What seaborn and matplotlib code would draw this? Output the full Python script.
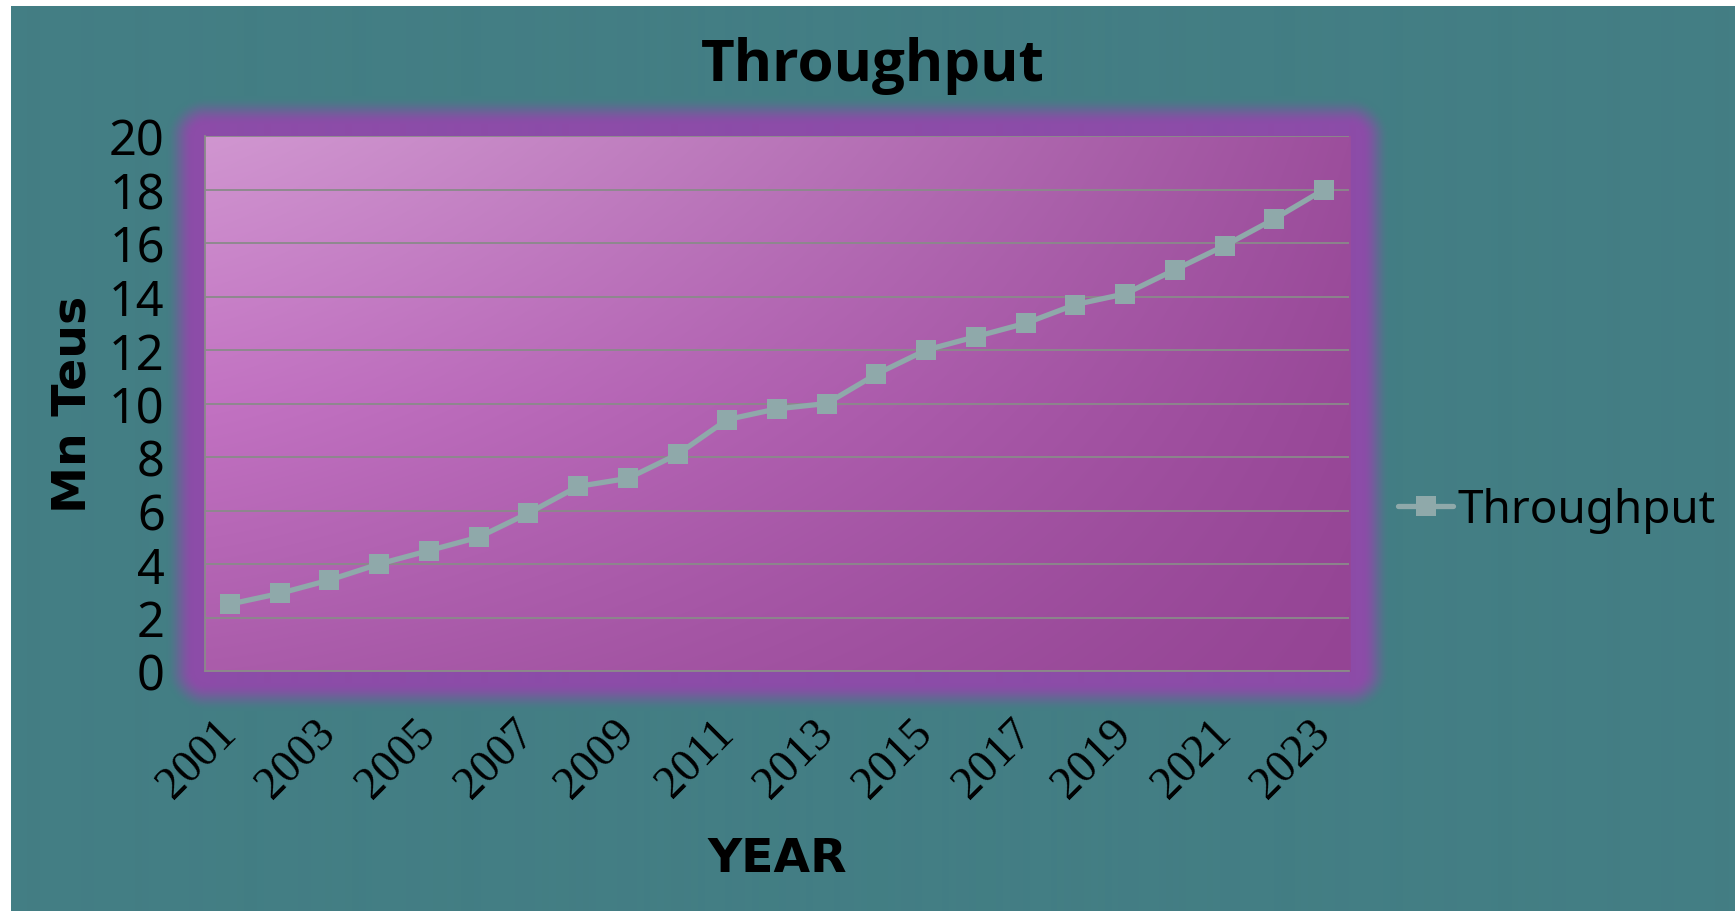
import numpy as np
import pandas as pd
import matplotlib
matplotlib.use("Agg")
import matplotlib.pyplot as plt
from matplotlib.font_manager import FontProperties
import seaborn as sns

# ---- data -------------------------------------------------------------
years = ["2001", "2002", "2003", "2004", "2005", "2006", "2007", "2008",
         "2009", "2010", "2011", "2012", "2013", "2014", "2015", "2016",
         "2017", "2018", "2019", "2020", "2021", "2022", "2023"]
throughput = [2.5, 2.9, 3.4, 4.0, 4.5, 5.0, 5.9, 6.9, 7.2, 8.1, 9.4, 9.8,
              10.0, 11.1, 12.0, 12.5, 13.0, 13.7, 14.1, 15.0, 15.9, 16.9, 18.0]
y_ticks = [0, 2, 4, 6, 8, 10, 12, 14, 16, 18, 20]
x_tick_labels = ["2001", "2003", "2005", "2007", "2009", "2011",
                 "2013", "2015", "2017", "2019", "2021", "2023"]

# ---- styling ------------------------------------------------------------
sns.set_theme(style="white")
W, H, DPI = 1735, 912, 100
TEAL = np.array([0x43, 0x7e, 0x84]) / 255
GLOW = np.array([0x8c, 0x4c, 0xa8]) / 255
LINE = "#8fa9aa"
GRID = "#8a8a8a"

# plot-area rectangle in pixels (left, right, top, bottom)
L, R, T, B = 205, 1349, 137, 672

fig = plt.figure(figsize=(W / DPI, H / DPI), dpi=DPI)

# ---- background: teal canvas, soft purple glow, gradient plot area -----
yy, xx = np.mgrid[0:H, 0:W].astype(float)
img = np.ones((H, W, 3)) * TEAL

dx = np.maximum(np.maximum(L - xx, xx - R), 0)
dy = np.maximum(np.maximum(T - yy, yy - B), 0)
d = np.hypot(dx, dy)
t = np.clip((d - 12) / 28, 0, 1)
alpha = 1 - t * t * (3 - 2 * t)
img = img * (1 - alpha[..., None]) + GLOW * alpha[..., None]

inside = (xx >= L) & (xx <= R) & (yy >= T) & (yy <= B)
u = np.clip((xx - L) / (R - L), 0, 1)
w = np.clip((yy - T) / (B - T), 0, 1)
f = u ** 1.2
left_col = np.array([[208, 150, 208], [194, 114, 194], [170, 92, 170]]) / 255
right_col = np.array([[156, 78, 156], [152, 72, 152], [148, 68, 148]]) / 255


def column(c, w):
    top, mid, bot = c
    w = w[..., None]
    upper = top + (mid - top) * np.clip(w / 0.5, 0, 1)
    lower = mid + (bot - mid) * np.clip((w - 0.5) / 0.5, 0, 1)
    return np.where(w <= 0.5, upper, lower)


grad = column(left_col, w) * (1 - f[..., None]) + column(right_col, w) * f[..., None]
img = np.where(inside[..., None], grad, img)

# thin white margin on the top and left edges
img[:7, :, :] = 1.0
img[:, :11, :] = 1.0

bg = fig.add_axes([0, 0, 1, 1], zorder=0)
bg.imshow(img, extent=(0, 1, 0, 1), aspect="auto", interpolation="bilinear")
bg.set_axis_off()

# ---- main axes -----------------------------------------------------------
ax = fig.add_axes([L / W, 1 - B / H, (R - L) / W, (B - T) / H], zorder=1)
ax.set_facecolor("none")

df = pd.DataFrame({"Year": years, "Throughput": throughput})
sns.lineplot(data=df, x="Year", y="Throughput", ax=ax, color=LINE,
             linewidth=3.8, marker="s", markersize=14, markeredgewidth=0,
             sort=False, label="Throughput", legend=False)

ax.set_xlim(-0.5, len(years) - 0.5)
ax.set_ylim(0, 20)
ax.set_yticks(y_ticks)
ax.yaxis.grid(True, color=GRID, linewidth=1.3)
ax.xaxis.grid(False)
ax.set_axisbelow(True)

for side in ("left", "bottom"):
    ax.spines[side].set_color(GRID)
    ax.spines[side].set_linewidth(1.3)
for side in ("top", "right"):
    ax.spines[side].set_visible(False)

ax.set_xticks([years.index(y) for y in x_tick_labels])
ax.set_yticklabels([str(v) for v in y_ticks])
ax.tick_params(axis="x", length=0, pad=40)
ax.tick_params(axis="y", length=0, pad=29, labelsize=35,
               labelcolor="black", labelfontfamily="Noto Sans")

# serif year labels along the bottom
year_font = FontProperties(family="Liberation Serif", size=33)
ax.set_xticklabels(x_tick_labels, rotation=45, ha="right", va="center",
                   rotation_mode="anchor", fontproperties=year_font,
                   color="black")

ax.set_xlabel("YEAR", fontfamily="DejaVu Sans", fontweight="bold",
              fontsize=34, color="black")
ax.xaxis.set_label_coords(0.5, -(860 - B) / (B - T))
ax.xaxis.label.set_va("center")
ax.set_ylabel("Mn Teus", fontfamily="DejaVu Sans", fontweight="bold",
              fontsize=34, color="black")
ax.yaxis.set_label_coords((73 - L) / (R - L), 0.5)
ax.yaxis.label.set_va("center")

fig.text(873 / W, 1 - 66 / H, "Throughput", ha="center", va="center",
         fontfamily="Open Sans", fontweight="bold", fontsize=42, color="black")

handles, labels = ax.get_legend_handles_labels()
leg = fig.legend(handles, labels, loc="center left",
                 bbox_to_anchor=(1398 / W, 1 - 511 / H),
                 bbox_transform=fig.transFigure, frameon=False,
                 prop={"family": "Noto Sans", "size": 33},
                 handlelength=1.2, handletextpad=0.1,
                 borderpad=0, borderaxespad=0)
for txt in leg.get_texts():
    txt.set_color("black")

fig.savefig("out.png", dpi=DPI)
